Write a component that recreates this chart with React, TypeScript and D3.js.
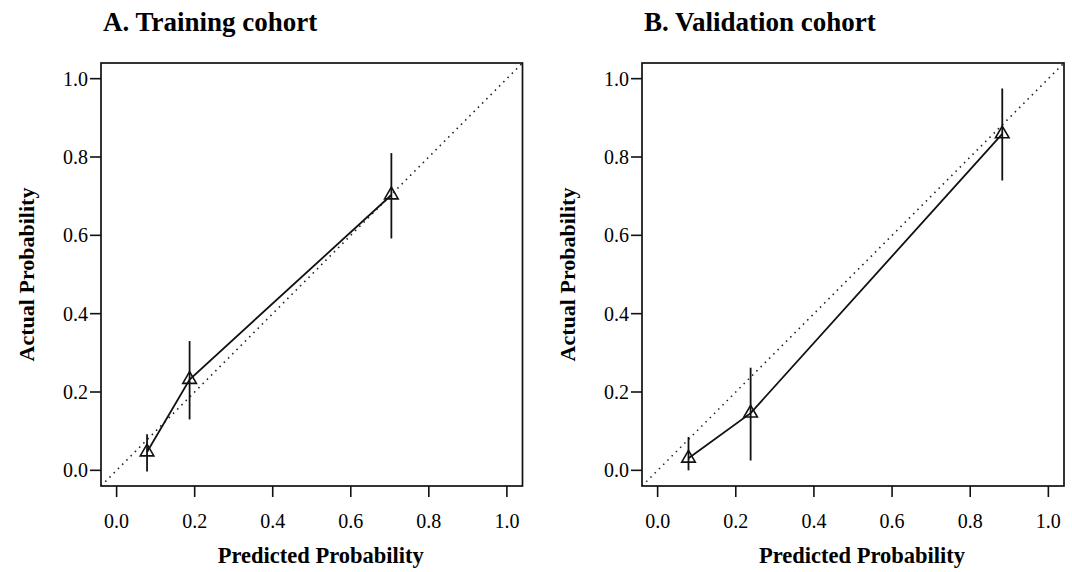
import React from 'react';
import * as d3 from 'd3';

// calibration points
const trainPred = [0.078, 0.187, 0.704];
const trainObs = [0.047, 0.232, 0.703];
const trainLo = [-0.003, 0.13, 0.592];
const trainHi = [0.092, 0.33, 0.81];

const validPred = [0.079, 0.238, 0.882];
const validObs = [0.031, 0.146, 0.859];
const validLo = [0.0, 0.025, 0.74];
const validHi = [0.085, 0.262, 0.975];

const ticks = [0, 0.2, 0.4, 0.6, 0.8, 1.0];

const font = '"Liberation Serif", "Times New Roman", serif';

type PanelProps = {
  title: string;
  left: number;
  right: number;
  pred: number[];
  obs: number[];
  lo: number[];
  hi: number[];
  clipId: string;
};

function Panel({ title, left, right, pred, obs, lo, hi, clipId }: PanelProps) {
  const top = 63;
  const bottom = 486;
  const x = d3.scaleLinear().domain([-0.04, 1.04]).range([left, right]);
  const y = d3.scaleLinear().domain([-0.04, 1.04]).range([bottom, top]);
  const pts = pred.map((p, i) => ({ p, o: obs[i], lo: lo[i], hi: hi[i] }));
  const line = d3.line<{ p: number; o: number }>()
    .x(d => x(d.p))
    .y(d => y(d.o));
  const tri = d3.symbol(d3.symbolTriangle, 80)();
  const midX = (left + right) / 2;
  const midY = (top + bottom) / 2;

  return (
    <g>
      <text x={left + 2} y={31} fontFamily={font} fontWeight="bold" fontSize={27}>{title}</text>
      <defs>
        <clipPath id={clipId}>
          <rect x={left} y={top} width={right - left} height={bottom - top} />
        </clipPath>
      </defs>
      {/* reference diagonal */}
      <line
        x1={x(-0.04)} y1={y(-0.04)} x2={x(1.04)} y2={y(1.04)}
        stroke="#222" strokeWidth={1.6} strokeDasharray="1.5,4.5"
        clipPath={`url(#${clipId})`}
      />
      {/* error bars */}
      {pts.map((d, i) => (
        <line key={'e' + i} x1={x(d.p)} x2={x(d.p)} y1={y(d.lo)} y2={y(d.hi)}
          stroke="#111" strokeWidth={1.8} />
      ))}
      <path d={line(pts) || ''} fill="none" stroke="#111" strokeWidth={1.8} />
      {pts.map((d, i) => (
        <path key={'t' + i} d={tri || ''} transform={`translate(${x(d.p)},${y(d.o)})`}
          fill="none" stroke="#111" strokeWidth={1.6} />
      ))}
      <rect x={left} y={top} width={right - left} height={bottom - top}
        fill="none" stroke="#111" strokeWidth={1.7} />
      {/* x axis */}
      {ticks.map(t => (
        <g key={'x' + t}>
          <line x1={x(t)} x2={x(t)} y1={bottom} y2={bottom + 11} stroke="#111" strokeWidth={1.6} />
          <text x={x(t)} y={528} textAnchor="middle" fontFamily={font} fontSize={20}>{t.toFixed(1)}</text>
        </g>
      ))}
      {/* y axis */}
      {ticks.map(t => (
        <g key={'y' + t}>
          <line x1={left} x2={left - 11} y1={y(t)} y2={y(t)} stroke="#111" strokeWidth={1.6} />
          <text x={left - 13} y={y(t) + 7} textAnchor="end" fontFamily={font} fontSize={20}>{t.toFixed(1)}</text>
        </g>
      ))}
      <text x={midX + 9} y={563} textAnchor="middle" fontFamily={font} fontWeight="bold" fontSize={22.5}>
        Predicted Probability
      </text>
      <text transform={`translate(${left - 67},${midY}) rotate(-90)`} textAnchor="middle"
        fontFamily={font} fontWeight="bold" fontSize={22}>
        Actual Probability
      </text>
    </g>
  );
}

export default function App() {
  return (
    <svg width={1072} height={572} style={{ position: 'absolute', left: 0, top: 0, background: '#fff' }}>
      <rect width={1072} height={572} fill="#fff" />
      <Panel title="A. Training cohort" left={101} right={522.5}
        pred={trainPred} obs={trainObs} lo={trainLo} hi={trainHi} clipId="clipA" />
      <Panel title="B. Validation cohort" left={642} right={1064}
        pred={validPred} obs={validObs} lo={validLo} hi={validHi} clipId="clipB" />
    </svg>
  );
}
